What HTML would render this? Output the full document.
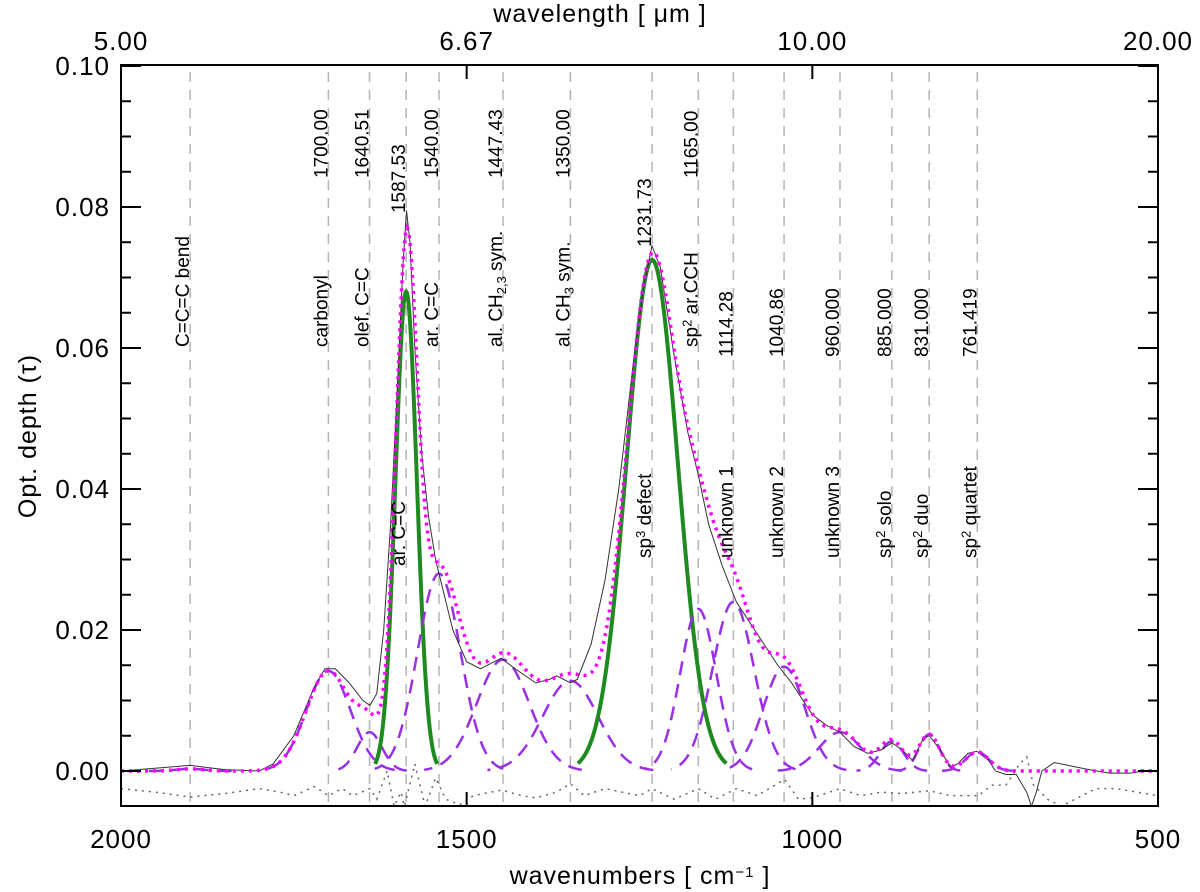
<!DOCTYPE html>
<html><head><meta charset="utf-8"><style>
html,body{margin:0;padding:0;background:#fff;}
svg{display:block;font-family:"Liberation Sans",sans-serif;}
</style></head><body>
<svg id="chart" width="1200" height="892" viewBox="0 0 1200 892" xmlns="http://www.w3.org/2000/svg">
<defs><clipPath id="clip"><rect x="121" y="65" width="1037" height="741"/></clipPath></defs>
<g id="plot" clip-path="url(#clip)"></g>
<g id="axes"></g>
<g id="labels"></g>
</svg>
<script>
// ---- data ----
const compCenters = [1900, 1700, 1640.51, 1587.53, 1540, 1447.43, 1350, 1231.73, 1165, 1114.28, 1040.86, 960, 885, 831, 761.419];
const compHeights = [0.0003, 0.0142, 0.0055, 0.068, 0.028, 0.0158, 0.0128, 0.0725, 0.023, 0.024, 0.0148, 0.0055, 0.0042, 0.0052, 0.0027];
const compWidths  = [20, 32, 18, 15.5, 31, 38, 40, 37, 26, 30, 30, 30, 17, 15, 17];
const compGreen   = [0,0,0,1,0,0,0,1,0,0,0,0,0,0,0];
const numLabels   = ["", "1700.00", "1640.51", "1587.53", "1540.00", "1447.43", "1350.00", "1231.73", "1165.00", "1114.28", "1040.86", "960.000", "885.000", "831.000", "761.419"];
const obsWn  = [2000,1900,1850,1800,1780,1750,1720,1705,1690,1670,1650,1640,1630,1620,1610,1600,1592,1587,1582,1575,1565,1555,1545,1535,1520,1500,1480,1460,1450,1430,1400,1380,1370,1350,1340,1320,1300,1280,1260,1245,1232,1220,1200,1180,1165,1150,1130,1110,1090,1070,1050,1030,1000,980,960,940,920,900,885,870,855,840,831,815,800,790,775,762,745,735,720,705,690,683,676,668,650,630,600,570,540,520,500];
const obsVal = [0,0.0008,0.0002,0,0.001,0.005,0.012,0.0145,0.0145,0.0125,0.010,0.0093,0.011,0.02,0.035,0.055,0.072,0.0795,0.075,0.06,0.045,0.036,0.030,0.026,0.020,0.0155,0.0145,0.0155,0.016,0.0145,0.0125,0.013,0.0135,0.0125,0.013,0.018,0.027,0.040,0.057,0.068,0.0745,0.0715,0.059,0.048,0.042,0.035,0.029,0.024,0.021,0.018,0.015,0.0125,0.008,0.0065,0.0055,0.0035,0.0025,0.003,0.004,0.003,0.0015,0.0045,0.005,0.003,0.0005,0.001,0.0025,0.0028,0.0015,0,-0.0005,-0.0005,-0.003,-0.005,-0.003,0,0.0012,0.0008,0.0002,-0.0003,-0.0003,0,0];
const resWn  = [2000,1950,1900,1850,1800,1770,1750,1720,1700,1680,1665,1640,1630,1615,1605,1595,1590,1575,1560,1545,1530,1510,1490,1450,1420,1400,1370,1350,1330,1300,1250,1232,1200,1165,1140,1110,1080,1040,1020,1000,960,930,900,870,831,800,760,740,720,700,690,680,660,640,620,590,560,530,500];
const resVal = [-0.0025,-0.003,-0.0037,-0.0032,-0.0025,-0.003,-0.0035,-0.0022,-0.0035,-0.0025,-0.0035,-0.0025,-0.004,0,-0.005,-0.003,-0.005,0.001,-0.005,-0.001,-0.004,-0.0048,-0.0035,-0.0027,-0.0035,-0.0038,-0.003,-0.0018,-0.0035,-0.0025,-0.0035,-0.0025,-0.004,-0.0025,-0.004,-0.0025,-0.0035,-0.0012,-0.004,-0.0038,-0.0025,-0.0035,-0.003,-0.0032,-0.0028,-0.0035,-0.0035,-0.002,-0.002,0.001,0.002,-0.002,-0.004,-0.005,-0.004,-0.0025,-0.0025,-0.003,-0.0035];
const yTicks = [0, 0.02, 0.04, 0.06, 0.08, 0.10];
const xTicks = [2000, 1500, 1000, 500];
const topTickLabels = ["5.00", "6.67", "10.00", "20.00"];

// ---- scales ----
const X = wn => 121 + (2000 - wn) * (1037 / 1500);
const Y = v => 771 - v * 7050;
const NS = "http://www.w3.org/2000/svg";
function mk(tag, attrs, parent){ const e=document.createElementNS(NS,tag); for(const k in attrs) e.setAttribute(k,attrs[k]); parent.appendChild(e); return e; }
const plot=document.getElementById('plot'), axes=document.getElementById('axes'), labels=document.getElementById('labels');
const gauss=(i,w)=>compHeights[i]*Math.exp(-Math.pow(w-compCenters[i],2)/(2*compWidths[i]*compWidths[i]));

compCenters.forEach((c,i)=>{
  const l=mk('line',{x1:X(c),x2:X(c),y1:72,y2:806,stroke:'#b4b4b4','stroke-width':1.5,'stroke-dasharray':'10 8'},plot);
  
  
});

let pts=resWn.map((w,i)=>X(w)+','+Y(resVal[i])).join(' ');
let res=mk('polyline',{points:pts,fill:'none',stroke:'#666','stroke-width':1.5,'stroke-dasharray':'2 5'},plot);



compCenters.forEach((c,i)=>{
  const green=compGreen[i]===1, span=(green?2.9:3)*compWidths[i];
  const p=[];
  for(let w=c-span; w<=c+span+0.01; w+=span/60) p.push(X(w)+','+Y(gauss(i,w)));
  const e=mk('polyline',{points:p.join(' '),fill:'none',stroke:green?'#1f8a1f':'#9a2fe8','stroke-width':green?4:2.5,'stroke-dasharray':green?'none':'14 9'},plot);
  
  
});

pts=obsWn.map((w,i)=>X(w)+','+Y(obsVal[i])).join(' ');
let obs=mk('polyline',{points:pts,fill:'none',stroke:'#333','stroke-width':1},plot);



const fp=[];
for(let w=2000; w>=500; w-=2){ let s=0; for(let i=0;i<compCenters.length;i++) s+=gauss(i,w); fp.push(X(w)+','+Y(s)); }
let fit=mk('polyline',{points:fp.join(' '),fill:'none',stroke:'#ff00ff','stroke-width':3.5,'stroke-dasharray':'3 5'},plot);



let fr=mk('rect',{x:121,y:65,width:1037,height:741,fill:'none',stroke:'#000','stroke-width':2},axes);


for(let k=0;k<=20;k++){
  const v=k*0.005, y=Y(v), major=(k%4===0), len=major?20:10;
  mk('line',{x1:121,x2:121+len,y1:y,y2:y,stroke:'#000','stroke-width':2},axes);
  mk('line',{x1:1158,x2:1158-len,y1:y,y2:y,stroke:'#000','stroke-width':2},axes);
}
yTicks.forEach(v=>{
  const t=mk('text',{x:110,y:Y(v)+9,'text-anchor':'end','font-size':26,'letter-spacing':1},axes);
  t.textContent=v.toFixed(2);
  
  
});
xTicks.forEach((w,i)=>{
  mk('line',{x1:X(w),x2:X(w),y1:806,y2:792,stroke:'#000','stroke-width':2},axes);
  mk('line',{x1:X(w),x2:X(w),y1:65,y2:79,stroke:'#000','stroke-width':2},axes);
  const t=mk('text',{x:X(w),y:848,'text-anchor':'middle','font-size':26,'letter-spacing':1},axes);
  t.textContent=String(w);
  
  
  const t2=mk('text',{x:X(w),y:50,'text-anchor':'middle','font-size':26,'letter-spacing':1},axes);
  t2.textContent=topTickLabels[i];
  
  
});

const names = ["C=C=C bend","carbonyl","olef. C=C","ar. C=C","ar. C=C","al. CH|2,3| sym.","al. CH|3| sym.","sp^3^ defect","sp^2^ ar.CCH","unknown 1","unknown 2","unknown 3","sp^2^ solo","sp^2^ duo","sp^2^ quartet"];
const numBottom  = [0,178,178,213,178,178,178,247,178,357,357,357,357,357,357];
const nameBottom = [347,347,347,566,347,347,347,558,347,558,558,558,558,558,558];
function addRot(x,y,parts,name){
  const t=mk('text',{x:x,y:y,transform:`rotate(-90 ${x} ${y})`,'font-size':19},labels);
  
  
  parts.forEach(p=>{
    const s=mk('tspan',{},t);
    if(p.t==='sub'){s.setAttribute('baseline-shift','-30%');s.setAttribute('font-size',13);}
    if(p.t==='sup'){s.setAttribute('baseline-shift','45%');s.setAttribute('font-size',13);}
    s.textContent=p.s;
  });
}
function parse(str){
  const out=[]; const re=/(\|[^|]*\||\^[^^]*\^|[^|^]+)/g; let m;
  while((m=re.exec(str))){ const s=m[0];
    if(s[0]==='|') out.push({t:'sub',s:s.slice(1,-1)});
    else if(s[0]==='^') out.push({t:'sup',s:s.slice(1,-1)});
    else out.push({t:'n',s:s}); }
  return out;
}
compCenters.forEach((c,i)=>{
  const x=X(c)-1;
  if(numLabels[i]) addRot(x,numBottom[i],[{t:'n',s:numLabels[i]}],'band-position-label');
  addRot(x,nameBottom[i],parse(names[i]),'band-name-label');
});

let tt=mk('text',{x:600,y:22,'text-anchor':'middle','font-size':25,'letter-spacing':1},axes);
tt.textContent='wavelength [ μm ]';


let bt=mk('text',{x:640,y:884,'text-anchor':'middle','font-size':25,'letter-spacing':1},axes);


bt.appendChild(document.createTextNode('wavenumbers [ cm'));
let sp=mk('tspan',{'baseline-shift':'45%','font-size':15},bt); sp.textContent='−1';
let sp2=mk('tspan',{},bt); sp2.textContent=' ]';
let yt=mk('text',{x:36,y:436,'text-anchor':'middle','font-size':25,'letter-spacing':1,transform:'rotate(-90 36 436)'},axes);
yt.textContent='Opt. depth (τ)';


</script>
</body></html>
